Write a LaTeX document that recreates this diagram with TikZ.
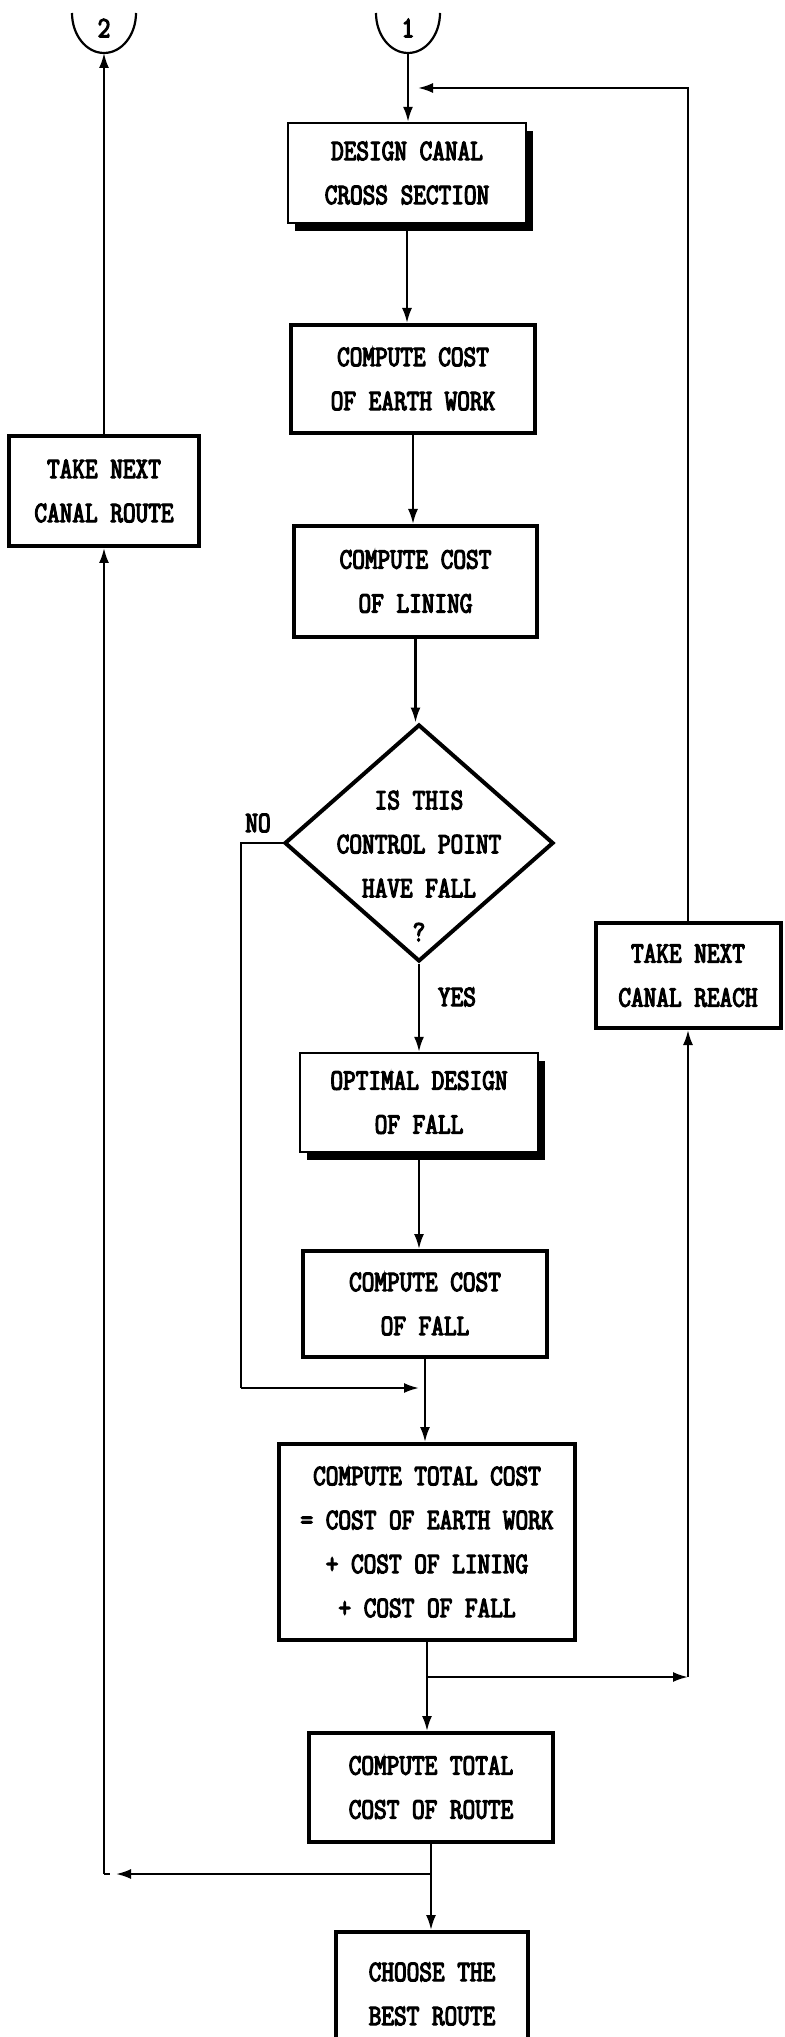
\documentclass[tikz,border=0pt]{standalone}
\usepackage{fontspec}
\newfontfamily\dotf[FakeStretch=0.83,FakeBold=4]{Latin Modern Mono}
\usetikzlibrary{arrows.meta,shapes.geometric,shadows}
\begin{document}
\begin{tikzpicture}[x=0.5pt,y=-0.5pt,
  every node/.style={font=\dotf\fontsize{14.8}{22}\selectfont},
  box/.style={draw, line width=2pt, rectangle, align=center, inner sep=0pt, fill=white},
  sbox/.style={draw, line width=1.2pt, rectangle, fill=white, align=center, inner sep=0pt,
     drop shadow={shadow xshift=3.5pt,shadow yshift=-4pt,opacity=1,fill=black}},
  diam/.style={draw, diamond, line width=2pt, inner sep=0pt},
  conn/.style={line width=1.1pt},
  arr/.style={conn, -{Latex[length=7.5pt,width=5pt]}},
  lbl/.style={align=center, inner sep=0pt}]
\useasboundingbox (0,0) rectangle (785,2037);
\clip (0,0) rectangle (785,2037);
\fill[white] (0,0) rectangle (785,2037);

% connectors at the top
\draw[conn] (376,13) arc[start angle=180, end angle=0, x radius=32, y radius=40];
\draw[conn] (72,13) arc[start angle=180, end angle=0, x radius=32, y radius=40];
\node[lbl] (c1t) at (408,28) {1};
\node[lbl] (c2t) at (104,28) {2};
\coordinate (c1b) at (408,53);
\coordinate (c2b) at (104,53);
\coordinate (j1) at (408,88);

% boxes
\node[sbox, minimum width=119pt, minimum height=50pt] (design) at (407,173) {DESIGN CANAL\\CROSS SECTION};
\node[box, minimum width=122pt, minimum height=54pt] (earth) at (413,379) {COMPUTE COST\\OF EARTH WORK};
\node[box, minimum width=121.5pt, minimum height=55.5pt] (lining) at (415.5,581.5) {COMPUTE COST\\OF LINING};
\node[diam, minimum width=134.5pt, minimum height=118.5pt] (dec) at (419,843) {};
\node[lbl] (dect) at (419,866) {IS THIS\\CONTROL POINT\\HAVE FALL\\?};
\node[sbox, minimum width=119pt, minimum height=49.5pt] (opt) at (419,1102.5) {OPTIMAL DESIGN\\OF FALL};
\node[box, minimum width=122pt, minimum height=53pt] (fallc) at (425,1304) {COMPUTE COST\\OF FALL};
\node[box, minimum width=148pt, minimum height=98pt] (total) at (427,1542) {COMPUTE TOTAL COST\\= COST OF EARTH WORK\\+ COST OF LINING\\+ COST OF FALL};
\node[box, minimum width=122pt, minimum height=54.5pt] (route) at (431,1787.5) {COMPUTE TOTAL\\COST OF ROUTE};
\node[box, minimum width=96pt, minimum height=62pt] (choose) at (432,1994) {CHOOSE THE\\BEST ROUTE};
\node[box, minimum width=92.5pt, minimum height=52.5pt] (reach) at (688,975.5) {TAKE NEXT\\CANAL REACH};
\node[box, minimum width=95pt, minimum height=55pt] (nroute) at (104,491) {TAKE NEXT\\CANAL ROUTE};

\node[lbl] (no) at (258,823) {NO};
\node[lbl] (yes) at (457,997) {YES};

% main spine
\draw[arr] (c1b) -- (c1b |- design.north);
\draw[arr, shorten >=5pt] (reach.north) -- (reach.north |- j1) -- (j1);
\draw[arr] (design.south) -- (design.south |- earth.north);
\draw[arr] (earth.south) -- (earth.south |- lining.north);
\draw[arr] (lining.south) -- (lining.south |- dec.north);
\draw[arr] (dec.south) -- (dec.south |- opt.north);
\draw[arr] (opt.south) -- (opt.south |- fallc.north);
\draw[arr] (fallc.south) -- (fallc.south |- total.north);

% NO branch
\coordinate (nob) at (241,1388);
\coordinate (j2) at (fallc.south |- nob);
\draw[conn] (dec.west) -- (dec.west -| nob) -- (nob);
\draw[arr, shorten >=3pt] (nob) -- (j2);

% loop to next reach
\draw[arr] (total.south) -- (total.south |- route.north);
\path (total.south) ++(0,35) coordinate (j3);
\coordinate (rc) at (reach.south |- j3);
\draw[arr] (j3) -- (rc);
\draw[arr] (rc) -- (reach.south);

% loop to next route
\draw[arr] (route.south) -- (route.south |- choose.north);
\path (route.south) ++(0,30) coordinate (j4);
\coordinate (lc) at (nroute.south |- j4);
\draw[arr, shorten >=6pt] (j4) -- (lc);
\draw[conn] (lc) -- ++(6,0);
\draw[arr] (lc) -- (nroute.south);
\draw[arr] (nroute.north) -- (c2b);
\end{tikzpicture}
\end{document}
